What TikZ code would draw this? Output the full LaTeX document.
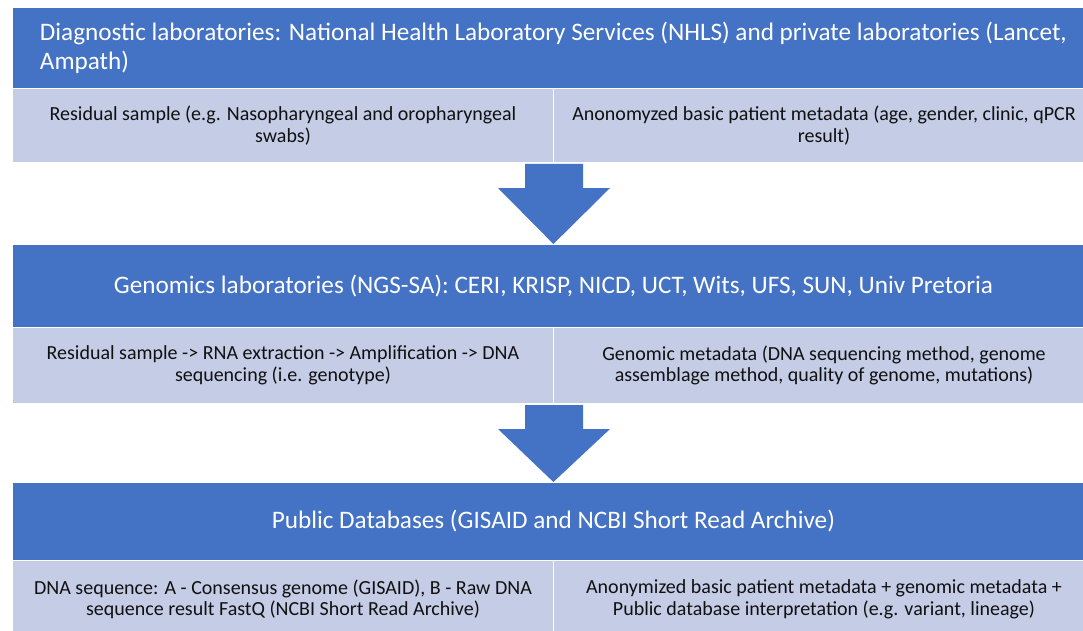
\documentclass[tikz,border=0pt]{standalone}
\usepackage{fontspec}
\setmainfont{Carlito}
\usetikzlibrary{calc}
\definecolor{hdrblue}{HTML}{4472C4}
\definecolor{cellblue}{HTML}{C4CCE6}
\definecolor{inktext}{HTML}{111111}
% block arrow from the bottom of one row (#1) down to the top of the next (#2)
\newcommand\flowarrow[2]{%
  \fill[hdrblue] ($(#1)+(-29,1)$) -- ($(#1)+(29,1)$) -- ($(#1)+(29,25)$)
    -- ($(#1)+(56,25)$) -- (#2) -- ($(#1)+(-56,25)$) -- ($(#1)+(-29,25)$) -- cycle;}
\begin{document}
\begin{tikzpicture}[x=1pt,y=-1pt,
  hdr/.style={fill=hdrblue, draw=white, line width=0.8pt, minimum width=1082pt,
    inner sep=0pt, anchor=north west, text=white, align=center,
    font=\fontsize{25.2}{29}\selectfont},
  cell/.style={fill=cellblue, draw=white, line width=1pt, minimum width=541pt,
    inner sep=0pt, anchor=north west, text=inktext, align=center,
    font=\fontsize{20}{21.5}\selectfont}]
\clip (0,0) rectangle (1083,631);
\fill[white] (0,0) rectangle (1083,631);

% row 1: diagnostic laboratories
\node[hdr, minimum height=81pt, align=left] (h1) at (12,7)
  {Diagnostic laboratories: National Health Laboratory Services (NHLS) and private laboratories (Lancet,\\Ampath)};
\node[cell, minimum height=74pt] (l1) at (12,88)
  {Residual sample (e.g. Nasopharyngeal and oropharyngeal\\swabs)};
\node[cell, minimum height=74pt] (r1) at (553,88)
  {Anonomyzed basic patient metadata (age, gender, clinic, qPCR\\result)};

% row 2: genomics laboratories
\node[hdr, minimum height=83pt] (h2) at (12,244)
  {Genomics laboratories (NGS-SA): CERI, KRISP, NICD, UCT, Wits, UFS, SUN, Univ Pretoria};
\node[cell, minimum height=76pt] (l2) at (12,327)
  {Residual sample -> RNA extraction -> Amplification -> DNA\\sequencing (i.e. genotype)};
\node[cell, minimum height=76pt] (r2) at (553,327)
  {Genomic metadata (DNA sequencing method, genome\\assemblage method, quality of genome, mutations)};

% row 3: public databases
\node[hdr, minimum height=78pt] (h3) at (12,482)
  {Public Databases (GISAID and NCBI Short Read Archive)};
\node[cell, minimum height=78pt] (l3) at (12,560)
  {DNA sequence: A - Consensus genome (GISAID), B - Raw DNA\\sequence result FastQ (NCBI Short Read Archive)};
\node[cell, minimum height=78pt] (r3) at (553,560)
  {Anonymized basic patient metadata + genomic metadata +\\Public database interpretation (e.g. variant, lineage)};

% arrows between the rows
\flowarrow{l1.south east}{h2.north}
\flowarrow{l2.south east}{h3.north}
\end{tikzpicture}
\end{document}
